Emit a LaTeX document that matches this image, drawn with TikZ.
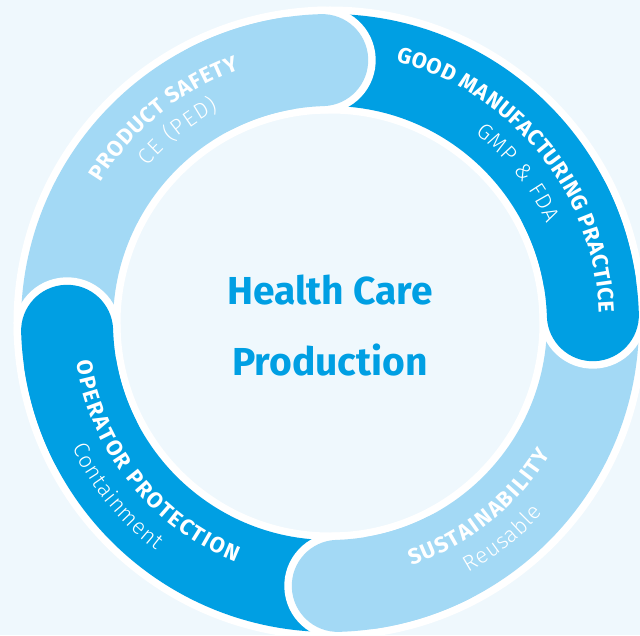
\documentclass[tikz,border=0pt]{standalone}
\usepackage{fontspec}
\setmainfont{Fira Sans}
\newfontfamily\titlefont{Fira Sans Bold}
\newfontfamily\subfont{Fira Sans Light}
\newfontfamily\centerfont{Fira Sans Bold}
\usetikzlibrary{decorations.text}
\definecolor{bgc}{HTML}{EFF8FD}
\definecolor{darkb}{HTML}{009FE3}
\definecolor{lightb}{HTML}{A3D9F5}
\tikzset{
  whitering/.style={white, line width=107pt},
  band/.style={line width=92pt},
  capwhite/.style={white, line width=107pt, line cap=round},
  capfill/.style={line width=92pt, line cap=round},
  titletext/.style={decorate, decoration={text along path, text align={fit to path}, text color=white, text={|\titlefont\fontsize{22}{22}\selectfont|#1}}},
  subtext/.style={decorate, decoration={text along path, text align={fit to path}, text color=white, text={|\subfont\fontsize{22}{22}\selectfont|#1}}},
  centertext/.style={text=darkb, font=\centerfont\fontsize{39}{40}\selectfont, inner sep=0pt, anchor=base}
}
\begin{document}
\begin{tikzpicture}[x=1pt,y=1pt]
\useasboundingbox (-330,-312) rectangle (310,323);
\fill[bgc] (-330,-312) rectangle (310,323);
% white ring
\draw[whitering] (0,0) circle (263pt);
% band bodies
\draw[band, lightb] (181.7:263pt) arc[start angle=181.7, end angle=91.7, radius=263pt];
\draw[band, darkb] (91.7:263pt) arc[start angle=91.7, end angle=1.7, radius=263pt];
\draw[band, lightb] (1.7:263pt) arc[start angle=1.7, end angle=-88.3, radius=263pt];
\draw[band, darkb] (-88.3:263pt) arc[start angle=-88.3, end angle=-178.3, radius=263pt];
% end caps
\draw[capwhite] (92.7:263pt) arc[start angle=92.7, end angle=91.7, radius=263pt];
\draw[capfill, lightb] (116.7:263pt) arc[start angle=116.7, end angle=91.7, radius=263pt];
\draw[capwhite] (2.7:263pt) arc[start angle=2.7, end angle=1.7, radius=263pt];
\draw[capfill, darkb] (26.7:263pt) arc[start angle=26.7, end angle=1.7, radius=263pt];
\draw[capwhite] (-87.3:263pt) arc[start angle=-87.3, end angle=-88.3, radius=263pt];
\draw[capfill, lightb] (-63.3:263pt) arc[start angle=-63.3, end angle=-88.3, radius=263pt];
\draw[capwhite] (-177.3:263pt) arc[start angle=-177.3, end angle=-178.3, radius=263pt];
\draw[capfill, darkb] (-153.3:263pt) arc[start angle=-153.3, end angle=-178.3, radius=263pt];
% labels
\path[titletext={PRODUCT SAFETY}] (148.5:269.2pt) arc[start angle=148.5, end angle=109.7, radius=269.2pt];
\path[subtext={CE (PED)}] (139.3:240.5pt) arc[start angle=139.3, end angle=117.5, radius=240.5pt];
\path[titletext={GOOD MANUFACTURING PRACTICE}] (75.85:269.2pt) arc[start angle=75.85, end angle=2.15, radius=269.2pt];
\path[subtext={GMP {\&} FDA}] (52.5:239pt) arc[start angle=52.5, end angle=24.6, radius=239pt];
\path[titletext={SUSTAINABILITY}] (-71.5:256pt) arc[start angle=-71.5, end angle=-30.8, radius=256pt];
\path[subtext={Reusable}] (-60.9:285.5pt) arc[start angle=-60.9, end angle=-41.8, radius=285.5pt];
\path[titletext={OPERATOR PROTECTION}] (188.7:256.8pt) arc[start angle=188.7, end angle=248.5, radius=256.8pt];
\path[subtext={Containment}] (205.8:286.5pt) arc[start angle=205.8, end angle=232.6, radius=286.5pt];
% centre
\node[centertext] (hc1) at (0,18.7) {Health Care};
\node[centertext] (hc2) at (0,-52) {Production};
\end{tikzpicture}
\end{document}
